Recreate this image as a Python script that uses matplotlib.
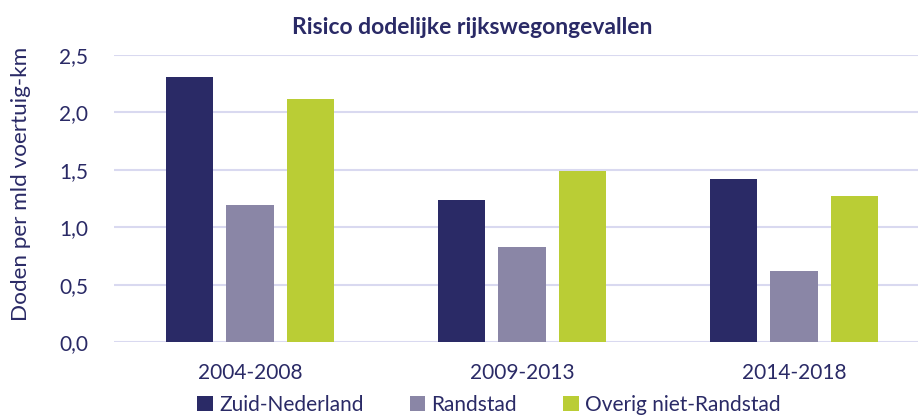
import matplotlib.pyplot as plt
import numpy as np

periods = ['2004-2008', '2009-2013', '2014-2018']
series = ['Zuid-Nederland', 'Randstad', 'Overig niet-Randstad']
zuid = [2.31, 1.24, 1.42]
randstad = [1.19, 0.83, 0.62]
overig = [2.12, 1.49, 1.27]
colors = ['#2A2A66', '#8A86A6', '#BACD35']
text_color = '#2A2A66'

plt.rcParams['font.family'] = ['Lato', 'DejaVu Sans']

fig = plt.figure(figsize=(9.18, 4.17), dpi=100)
ax = fig.add_axes([114 / 918, 1 - 342 / 417, (918 - 114) / 918, (342 - 55) / 417])

x = np.arange(len(periods))
offset = 0.224
width = 0.173
for i, (vals, name) in enumerate(zip([zuid, randstad, overig], series)):
    ax.bar(x + (i - 1) * offset, vals, width, color=colors[i], label=name, zorder=3)

ax.set_xlim(-0.5, 2.456)
ax.set_ylim(0, 2.5)
ax.set_yticks(np.arange(0, 2.51, 0.5))
ax.set_yticklabels([f'{v:.1f}'.replace('.', ',') for v in np.arange(0, 2.51, 0.5)])
ax.set_xticks(x)
ax.set_xticklabels(periods)
ax.grid(axis='y', color='#D9D9F0', linewidth=1.5, zorder=0)
for s in ax.spines.values():
    s.set_visible(False)
ax.tick_params(length=0, colors=text_color)
ax.tick_params(axis='y', labelsize=15, pad=18.5)
ax.tick_params(axis='x', labelsize=15, pad=15)

ax.set_ylabel('Doden per mld voertuig-km', fontsize=16.2, color=text_color)
ax.yaxis.set_label_coords(-(114 - 31) / 804, (342 - 184) / 287)
fig.text(472 / 918, 1 - 28 / 417, 'Risico dodelijke rijkswegongevallen', ha='center', va='center',
         fontsize=16.5, fontweight='bold', color=text_color)

leg = fig.legend(loc='center', bbox_to_anchor=(0.5 + 30 / 918, 1 - 405 / 417), ncol=3, frameon=False,
                 fontsize=15, handlelength=0.75, handleheight=0.75, columnspacing=2.2, handletextpad=0.3)
for t in leg.get_texts():
    t.set_color(text_color)

fig.savefig('out.png', dpi=100)
